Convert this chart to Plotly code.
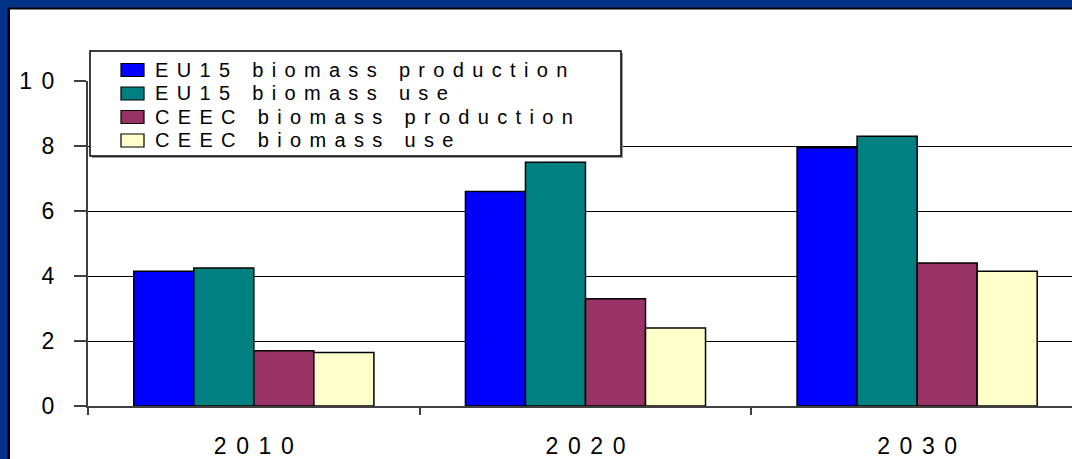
import plotly.graph_objects as go

years = ["2010", "2020", "2030"]
series_names = ["EU15 biomass production", "EU15 biomass use",
                "CEEC biomass production", "CEEC biomass use"]
eu15_production = [4.15, 6.6, 7.95]
eu15_use = [4.25, 7.5, 8.3]
ceec_production = [1.7, 3.3, 4.4]
ceec_use = [1.65, 2.4, 4.15]
y_ticks = [0, 2, 4, 6, 8, 10]

colors = ["#0000FF", "#008080", "#993366", "#FFFFCC"]
values = [eu15_production, eu15_use, ceec_production, ceec_use]

SP = "\u2005\u2006"


def spaced(s):
    return SP.join(list(s))


FONT = "Liberation Sans, Arial, sans-serif"

fig = go.Figure()
for name, vals, col in zip(series_names, values, colors):
    fig.add_trace(go.Bar(
        x=years, y=vals, name=name, showlegend=False,
        marker=dict(color=col, line=dict(color="#000000", width=1.5)),
    ))

W, H = 1072, 459
L, R, T, B = 88, 0, 81, 53
pw = W - L - R
ph = H - T - B


def px_x(px):
    return (px - L) / pw


def px_y(py):
    return (H - B - py) / ph


navy = "#003388"
shapes = [
    dict(type="rect", xref="paper", yref="paper", x0=px_x(0), x1=px_x(10),
         y0=px_y(H), y1=px_y(0), fillcolor="#000000", line=dict(width=0), layer="above"),
    dict(type="rect", xref="paper", yref="paper", x0=px_x(0), x1=px_x(W),
         y0=px_y(9.5), y1=px_y(0), fillcolor="#000000", line=dict(width=0), layer="above"),
    dict(type="rect", xref="paper", yref="paper", x0=px_x(0), x1=px_x(7.5),
         y0=px_y(H), y1=px_y(0), fillcolor=navy, line=dict(width=0), layer="above"),
    dict(type="rect", xref="paper", yref="paper", x0=px_x(0), x1=px_x(W),
         y0=px_y(7.5), y1=px_y(0), fillcolor=navy, line=dict(width=0), layer="above"),
]

# legend box (drawn as a framed panel with swatches and labels)
shapes.append(dict(type="rect", xref="paper", yref="paper",
                   x0=px_x(92), x1=px_x(623), y0=px_y(158), y1=px_y(53),
                   fillcolor="#9a9a9a", line=dict(width=0), layer="above"))
shapes.append(dict(type="rect", xref="paper", yref="paper",
                   x0=px_x(90), x1=px_x(621), y0=px_y(156), y1=px_y(51),
                   fillcolor="white", line=dict(color="#000000", width=1.5), layer="above"))
annotations = []
row_centers = [69.5, 93, 116.5, 140]
for name, col, yc in zip(series_names, colors, row_centers):
    shapes.append(dict(type="rect", xref="paper", yref="paper",
                       x0=px_x(121), x1=px_x(144), y0=px_y(yc + 7), y1=px_y(yc - 6),
                       fillcolor=col, line=dict(color="#000000", width=1.2), layer="above"))
    annotations.append(dict(xref="paper", yref="paper", x=px_x(153), y=px_y(yc),
                            xanchor="left", yanchor="middle", showarrow=False,
                            text=spaced(name),
                            font=dict(family=FONT, size=20, color="#000000")))

fig.update_layout(
    width=W, height=H,
    margin=dict(l=L, r=R, t=T, b=B, pad=0),
    paper_bgcolor="white", plot_bgcolor="white",
    barmode="group", bargap=0.276, bargroupgap=0,
    font=dict(family=FONT, color="#000000"),
    showlegend=False,
    xaxis=dict(
        type="category", range=[-0.5, 2.467],
        tickmode="array", tickvals=years, ticktext=[spaced(y) for y in years],
        tickson="boundaries", ticks="outside", ticklen=7, tickwidth=2, tickcolor="#404040",
        showline=True, linecolor="#404040", linewidth=2,
        showgrid=False, zeroline=False,
        tickfont=dict(family=FONT, size=23, color="#000000"),
        ticklabelstandoff=18,
    ),
    yaxis=dict(
        range=[0, 10],
        tickmode="array", tickvals=y_ticks, ticktext=[spaced(str(v)) for v in y_ticks],
        ticks="outside", ticklen=12, tickwidth=2, tickcolor="#404040",
        showline=True, linecolor="#404040", linewidth=2,
        showgrid=True, gridcolor="#000000", gridwidth=1,
        zeroline=False,
        tickfont=dict(family=FONT, size=23, color="#000000"),
        ticklabelstandoff=15,
    ),
    shapes=shapes,
    annotations=annotations,
)

fig.write_html("out.html")
